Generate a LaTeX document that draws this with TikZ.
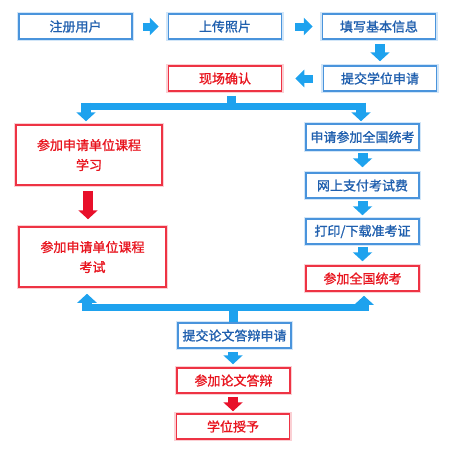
\documentclass[tikz,border=0pt]{standalone}
\usepackage{fontspec}
\setmainfont{Noto Sans CJK SC}
\newfontfamily\boxfont{Noto Sans CJK SC}[FakeBold=1.2]
\usetikzlibrary{arrows.meta,calc}
\definecolor{bblue}{HTML}{4A94DC}
\definecolor{bglow}{HTML}{D2E6F8}
\definecolor{tblue}{HTML}{1F5FAE}
\definecolor{bred}{HTML}{EE3344}
\definecolor{rglow}{HTML}{FBD0D4}
\definecolor{tred}{HTML}{E8141E}
\definecolor{arrblue}{HTML}{1EA2EE}
\definecolor{arrred}{HTML}{E8102A}
\tikzset{
  bluebox/.style={draw=bblue, line width=1.5pt, fill=white, text=tblue,
    preaction={draw=bglow, line width=4.5pt},
    minimum width=113pt, minimum height=25pt, inner sep=0pt,
    font=\boxfont\fontsize{13}{20}\selectfont, align=center},
  redbox/.style={bluebox, draw=bred, text=tred, preaction={draw=rglow, line width=4.5pt}},
  harr/.style={draw=arrblue, line width=8pt, -{Triangle[width=17pt,length=9pt]}},
  varr/.style={draw=arrblue, line width=10pt, -{Triangle[width=19pt,length=9pt]}},
  rarr/.style={varr, draw=arrred},
  barline/.style={draw=arrblue, line width=7pt},
  stemline/.style={draw=arrblue, line width=9pt},
}
\begin{document}
\begin{tikzpicture}[x=1pt,y=-1pt]
\useasboundingbox (0,0) rectangle (473,450);
% top row
\node[bluebox] (reg) at (75.5,26.5) {注册用户};
\node[bluebox] (up) at (225,26.5) {上传照片};
\node[bluebox] (fill) at (379,26.5) {填写基本信息};
\node[bluebox] (sub) at (380,78.5) {提交学位申请};
\node[redbox] (conf) at (225,78.5) {现场确认};
% left column
\node[redbox, minimum width=146pt, minimum height=60pt] (study) at (89,155) {参加申请单位课程\\学习};
\node[redbox, minimum width=147pt, minimum height=60pt] (cexam) at (92.5,257) {参加申请单位课程\\考试};
% right column
\node[bluebox, minimum height=26pt] (apply) at (362.5,137) {申请参加全国统考};
\node[bluebox] (pay) at (362.5,185.5) {网上支付考试费};
\node[bluebox] (print) at (362.5,231.5) {打印/下载准考证};
\node[redbox] (exam) at (362.5,278.5) {参加全国统考};
% bottom
\node[bluebox] (thesis) at (234.5,335.5) {提交论文答辩申请};
\node[redbox] (def) at (233.5,380.5) {参加论文答辩};
\node[redbox] (deg) at (233,426.5) {学位授予};

% arrows top row
\draw[harr] ($(reg.east)+(10,0)$) -- ($(up.west)+(-9,0)$);
\draw[harr] ($(up.east)+(13,0)$) -- ($(fill.west)+(-9,0)$);
\draw[varr] ($(fill.south)+(1,4)$) -- ($(sub.north)+(0,-4)$);
\draw[harr] ($(sub.west)+(-10,0)$) -- ($(conf.east)+(13,0)$);

% top branch
\coordinate (bt) at ($(conf.south)+(6,15)$);
\coordinate (btl) at (86,106);
\coordinate (btr) at (361,106);
\draw[stemline] ($(conf.south)+(6,4)$) -- (bt);
\draw[barline] ($(btl)+(-5,0)$) -- ($(btr)+(5,0)$);
\draw[varr] ($(btl)+(0,-3.5)$) -- ($(study.north -| btl)+(0,-3)$);
\draw[varr] ($(btr)+(0,-3.5)$) -- ($(apply.north -| btr)+(0,-2)$);

% left column arrow
\draw[rarr] ($(study.south)+(-1,5)$) -- ($(cexam.north)+(-4.5,-7)$);

% right column arrows
\draw[varr] ($(apply.south)+(0,2)$) -- ($(pay.north)+(0,-5)$);
\draw[varr] ($(pay.south)+(0,2)$) -- ($(print.north)+(0,-3)$);
\draw[varr] ($(print.south)+(0,2)$) -- ($(exam.north)+(0,-4)$);

% bottom branch
\coordinate (bb) at ($(thesis.north)+(-1.5,-16)$);
\coordinate (bbl) at (87,307);
\coordinate (bbr) at (364,307);
\draw[stemline] (bb) -- ($(thesis.north)+(-1.5,0)$);
\draw[barline] ($(bbl)+(-5,0)$) -- ($(bbr)+(5,0)$);
\draw[varr] ($(bbl)+(0,3.5)$) -- ($(cexam.south -| bbl)+(0,6)$);
\draw[varr] ($(bbr)+(0,3.5)$) -- ($(exam.south -| bbr)+(0,4)$);

% bottom column arrows
\draw[varr] ($(thesis.south)+(-1.5,3)$) -- ($(def.north)+(-0.5,-3)$);
\draw[rarr] ($(def.south)+(-0.5,3)$) -- ($(deg.north)+(0,-2)$);
\end{tikzpicture}
\end{document}
